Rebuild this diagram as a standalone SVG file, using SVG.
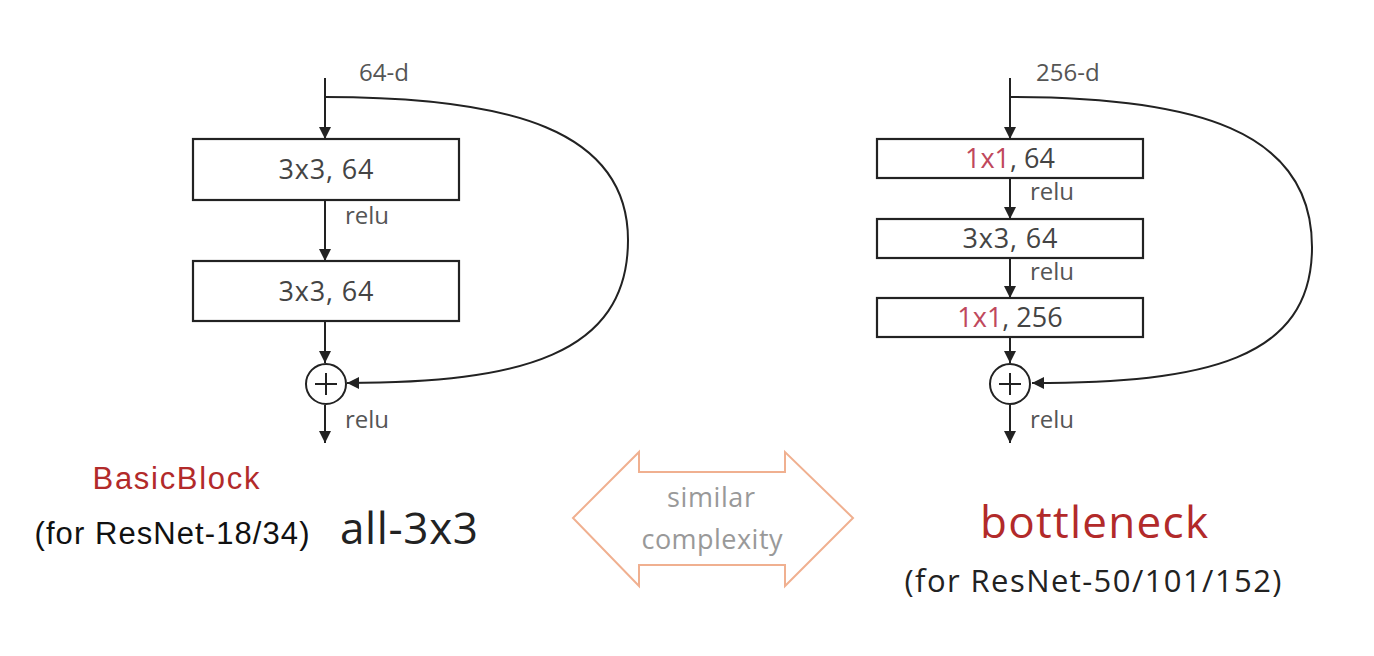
<svg xmlns="http://www.w3.org/2000/svg" width="1374" height="656" viewBox="0 0 1374 656">
<defs>
<marker id="ah" viewBox="0 0 12 12" refX="12" refY="6" markerWidth="12" markerHeight="12" markerUnits="userSpaceOnUse" orient="auto">
<path d="M0,0 L12,6 L0,12 Z" fill="#222"/>
</marker>
</defs>
<style>
.ln{stroke:#222;stroke-width:2;fill:none}
.box{fill:#fff;stroke:#222;stroke-width:2.2}
.bt{font-family:"Open Sans","DejaVu Sans",sans-serif;font-size:27px;fill:#444;text-anchor:middle}
.lb{font-family:"Open Sans","DejaVu Sans",sans-serif;font-size:24px;fill:#555}
.red{fill:#c0485c}
.cap{font-family:"Liberation Sans",Arial,sans-serif;font-size:31px;fill:#111}
.add{fill:#fff;stroke:#222;stroke-width:2}
</style>
<rect width="1374" height="656" fill="#fff"/>
<g id="connectors">
<line class="ln" x1="325" y1="78" x2="325" y2="139" marker-end="url(#ah)"/>
<line class="ln" x1="325" y1="200" x2="325" y2="261" marker-end="url(#ah)"/>
<line class="ln" x1="325" y1="321" x2="325" y2="363" marker-end="url(#ah)"/>
<line class="ln" x1="325" y1="405" x2="325" y2="443" marker-end="url(#ah)"/>
<path class="ln" d="M325,97 C510,97 628,130 628,240 C628,355 520,383 347,383" marker-end="url(#ah)"/>
<line class="ln" x1="1010" y1="78" x2="1010" y2="139" marker-end="url(#ah)"/>
<line class="ln" x1="1010" y1="178" x2="1010" y2="219" marker-end="url(#ah)"/>
<line class="ln" x1="1010" y1="258" x2="1010" y2="298" marker-end="url(#ah)"/>
<line class="ln" x1="1010" y1="337" x2="1010" y2="363" marker-end="url(#ah)"/>
<line class="ln" x1="1010" y1="405" x2="1010" y2="443" marker-end="url(#ah)"/>
<path class="ln" d="M1010,97 C1195,97 1312,130 1312,247 C1312,360 1205,383 1032,383" marker-end="url(#ah)"/>
</g>
<g id="left-labels">
<text class="lb" x="359" y="81">64-d</text>
<text class="lb" x="345" y="224">relu</text>
<text class="lb" x="345" y="428">relu</text>
</g>
<g id="left-box1"><rect class="box" x="193" y="139" width="266" height="61"/><text class="bt" x="326" y="179" textLength="95">3x3, 64</text></g>
<g id="left-box2"><rect class="box" x="193" y="261" width="266" height="60"/><text class="bt" x="326" y="301" textLength="95">3x3, 64</text></g>
<g id="left-add"><circle class="add" cx="326" cy="384" r="20"/><path d="M315,384 H337 M326,373 V395" stroke="#222" stroke-width="2"/></g>
<g id="right-labels">
<text class="lb" x="1036" y="81">256-d</text>
<text class="lb" x="1030" y="200">relu</text>
<text class="lb" x="1030" y="280">relu</text>
<text class="lb" x="1030" y="428">relu</text>
</g>
<g id="right-box1"><rect class="box" x="877" y="139" width="266" height="39"/><text class="bt" x="1010" y="168"><tspan class="red">1x1</tspan>, 64</text></g>
<g id="right-box2"><rect class="box" x="877" y="219" width="266" height="39"/><text class="bt" x="1010" y="248" textLength="95">3x3, 64</text></g>
<g id="right-box3"><rect class="box" x="877" y="298" width="266" height="39"/><text class="bt" x="1010" y="327"><tspan class="red">1x1</tspan>, 256</text></g>
<g id="right-add"><circle class="add" cx="1010" cy="384" r="20"/><path d="M999,384 H1021 M1010,373 V395" stroke="#222" stroke-width="2"/></g>
<g id="captions">
<text class="cap" x="176" y="489" text-anchor="middle" textLength="167" style="fill:#b22a2a">BasicBlock</text>
<text class="cap" x="172" y="544" text-anchor="middle" textLength="275">(for ResNet-18/34)</text>
<text x="409" y="544" text-anchor="middle" textLength="138" font-family="'Open Sans','DejaVu Sans',sans-serif" font-size="44" fill="#222">all-3x3</text>
<text x="1094" y="538" text-anchor="middle" textLength="228" font-family="'Open Sans','DejaVu Sans',sans-serif" font-size="44" fill="#b22a2a">bottleneck</text>
<text x="1093" y="592" text-anchor="middle" textLength="377" font-family="'Open Sans','DejaVu Sans',sans-serif" font-size="31" fill="#222">(for ResNet-50/101/152)</text>
</g>
<g id="similar">
<path d="M573,518 L639,452 L639,472 L785,472 L785,452 L853,518 L785,586 L785,565 L639,565 L639,586 Z" fill="#fff" stroke="#f0b090" stroke-width="2"/>
<text x="711" y="507" text-anchor="middle" textLength="88" font-family="'Open Sans','DejaVu Sans',sans-serif" font-size="27" fill="#999">similar</text>
<text x="712" y="549" text-anchor="middle" textLength="141" font-family="'Open Sans','DejaVu Sans',sans-serif" font-size="27" fill="#999">complexity</text>
</g>
</svg>
